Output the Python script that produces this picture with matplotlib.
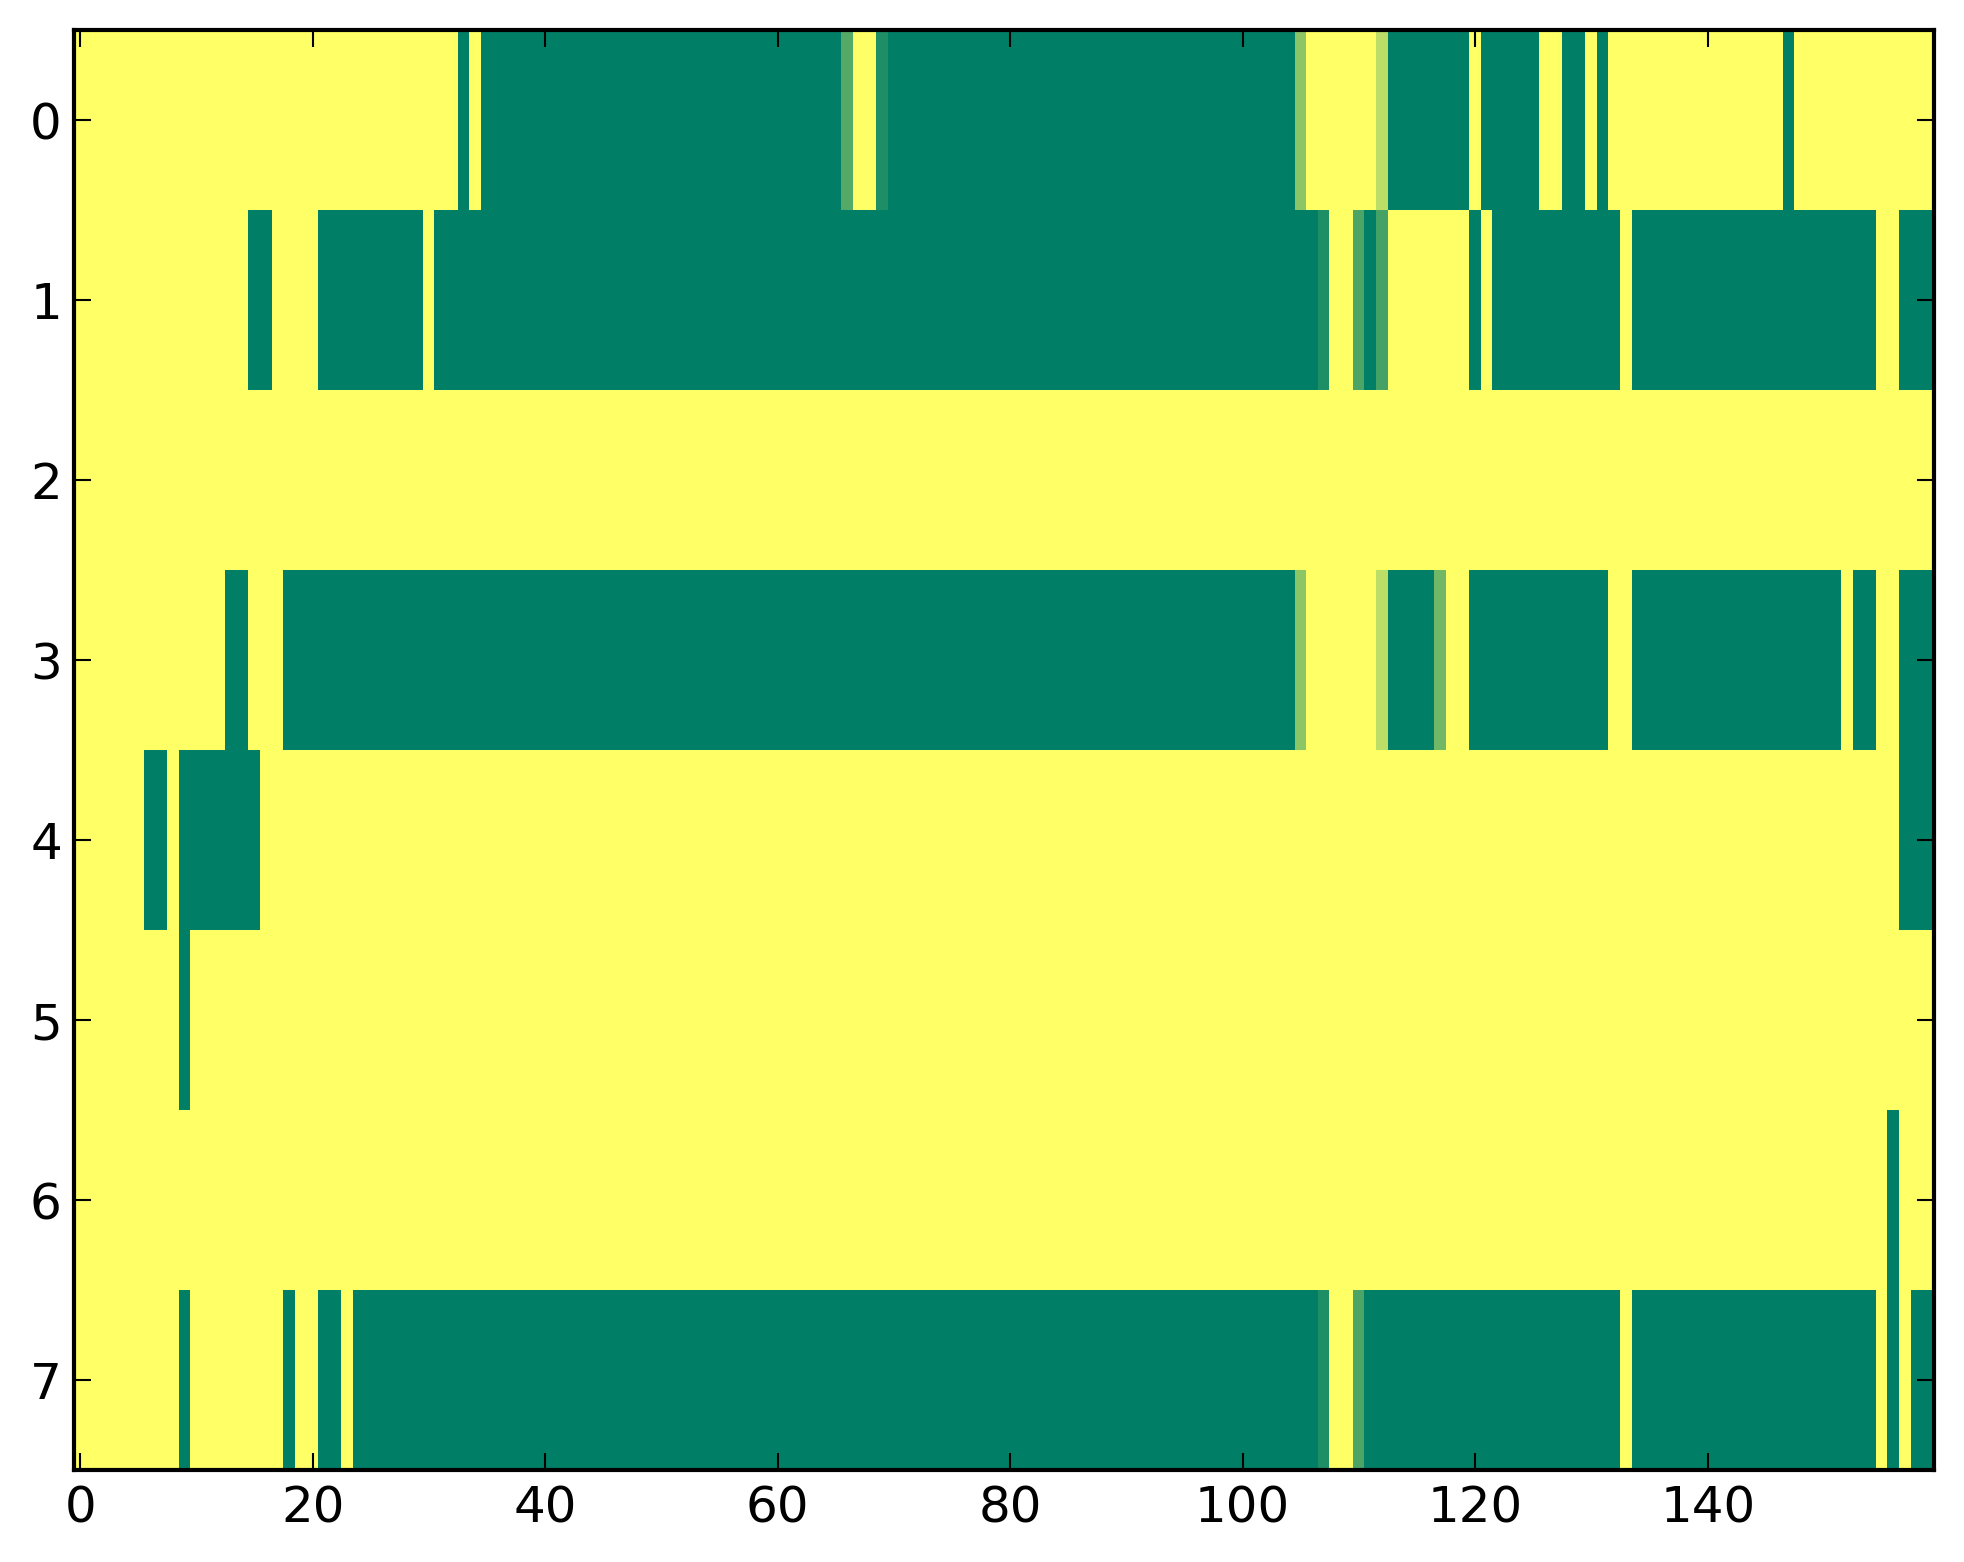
# heatmap of 8 channels over 160 steps
import numpy as np
import matplotlib
matplotlib.use('Agg')
import matplotlib.pyplot as plt

# runs of (value, count) per row; 1.0 = yellow, 0.0 = green
row0 = [(1, 33), (0, 1), (1, 1), (0, 31), (0.33, 1), (1, 2), (0.12, 1), (0, 35),
        (0.55, 1), (1, 6), (0.74, 1), (0, 7), (1, 1), (0, 5), (1, 2), (0, 2),
        (1, 1), (0, 1), (1, 15), (0, 1), (1, 12)]
row1 = [(1, 15), (0, 2), (1, 4), (0, 9), (1, 1), (0, 76), (0.12, 1), (1, 2),
        (0.3, 1), (0, 1), (0.27, 1), (1, 7), (0, 1), (1, 1), (0, 11), (1, 1),
        (0, 21), (1, 2), (0, 3)]
row2 = [(1, 160)]
row3 = [(1, 13), (0, 2), (1, 3), (0, 87), (0.55, 1), (1, 6), (0.74, 1), (0, 4),
        (0.44, 1), (1, 2), (0, 12), (1, 2), (0, 18), (1, 1), (0, 2), (1, 2), (0, 3)]
row4 = [(1, 6), (0, 2), (1, 1), (0, 7), (1, 141), (0, 3)]
row5 = [(1, 9), (0, 1), (1, 150)]
row6 = [(1, 156), (0, 1), (1, 3)]
row7 = [(1, 9), (0, 1), (1, 8), (0, 1), (1, 2), (0, 2), (1, 1), (0, 83), (0.12, 1),
        (1, 2), (0.3, 1), (0, 22), (1, 1), (0, 21), (1, 1), (0, 1), (1, 1), (0, 2)]

def expand(runs):
    return np.repeat([v for v, n in runs], [n for v, n in runs]).astype(float)

grid = np.vstack([expand(r) for r in (row0, row1, row2, row3, row4, row5, row6, row7)])

plt.rcParams.update({
    'font.size': 12,
    'xtick.direction': 'in', 'ytick.direction': 'in',
    'xtick.top': True, 'ytick.right': True,
    'xtick.major.size': 4, 'ytick.major.size': 4,
    'xtick.major.width': 0.5, 'ytick.major.width': 0.5,
    'xtick.major.pad': 3.4, 'ytick.major.pad': 3,
    'axes.linewidth': 1.0,
})

fig = plt.figure(figsize=(8, 6), dpi=300)
ax = fig.add_axes([0.125, 0.1, 0.775, 0.8])
ax.imshow(grid, cmap='summer', vmin=0, vmax=1, aspect='auto', interpolation='nearest')
ax.set_xticks(range(0, 160, 20))
ax.set_yticks(range(8))
fig.savefig('out.png', dpi=300, bbox_inches='tight', facecolor='white')
